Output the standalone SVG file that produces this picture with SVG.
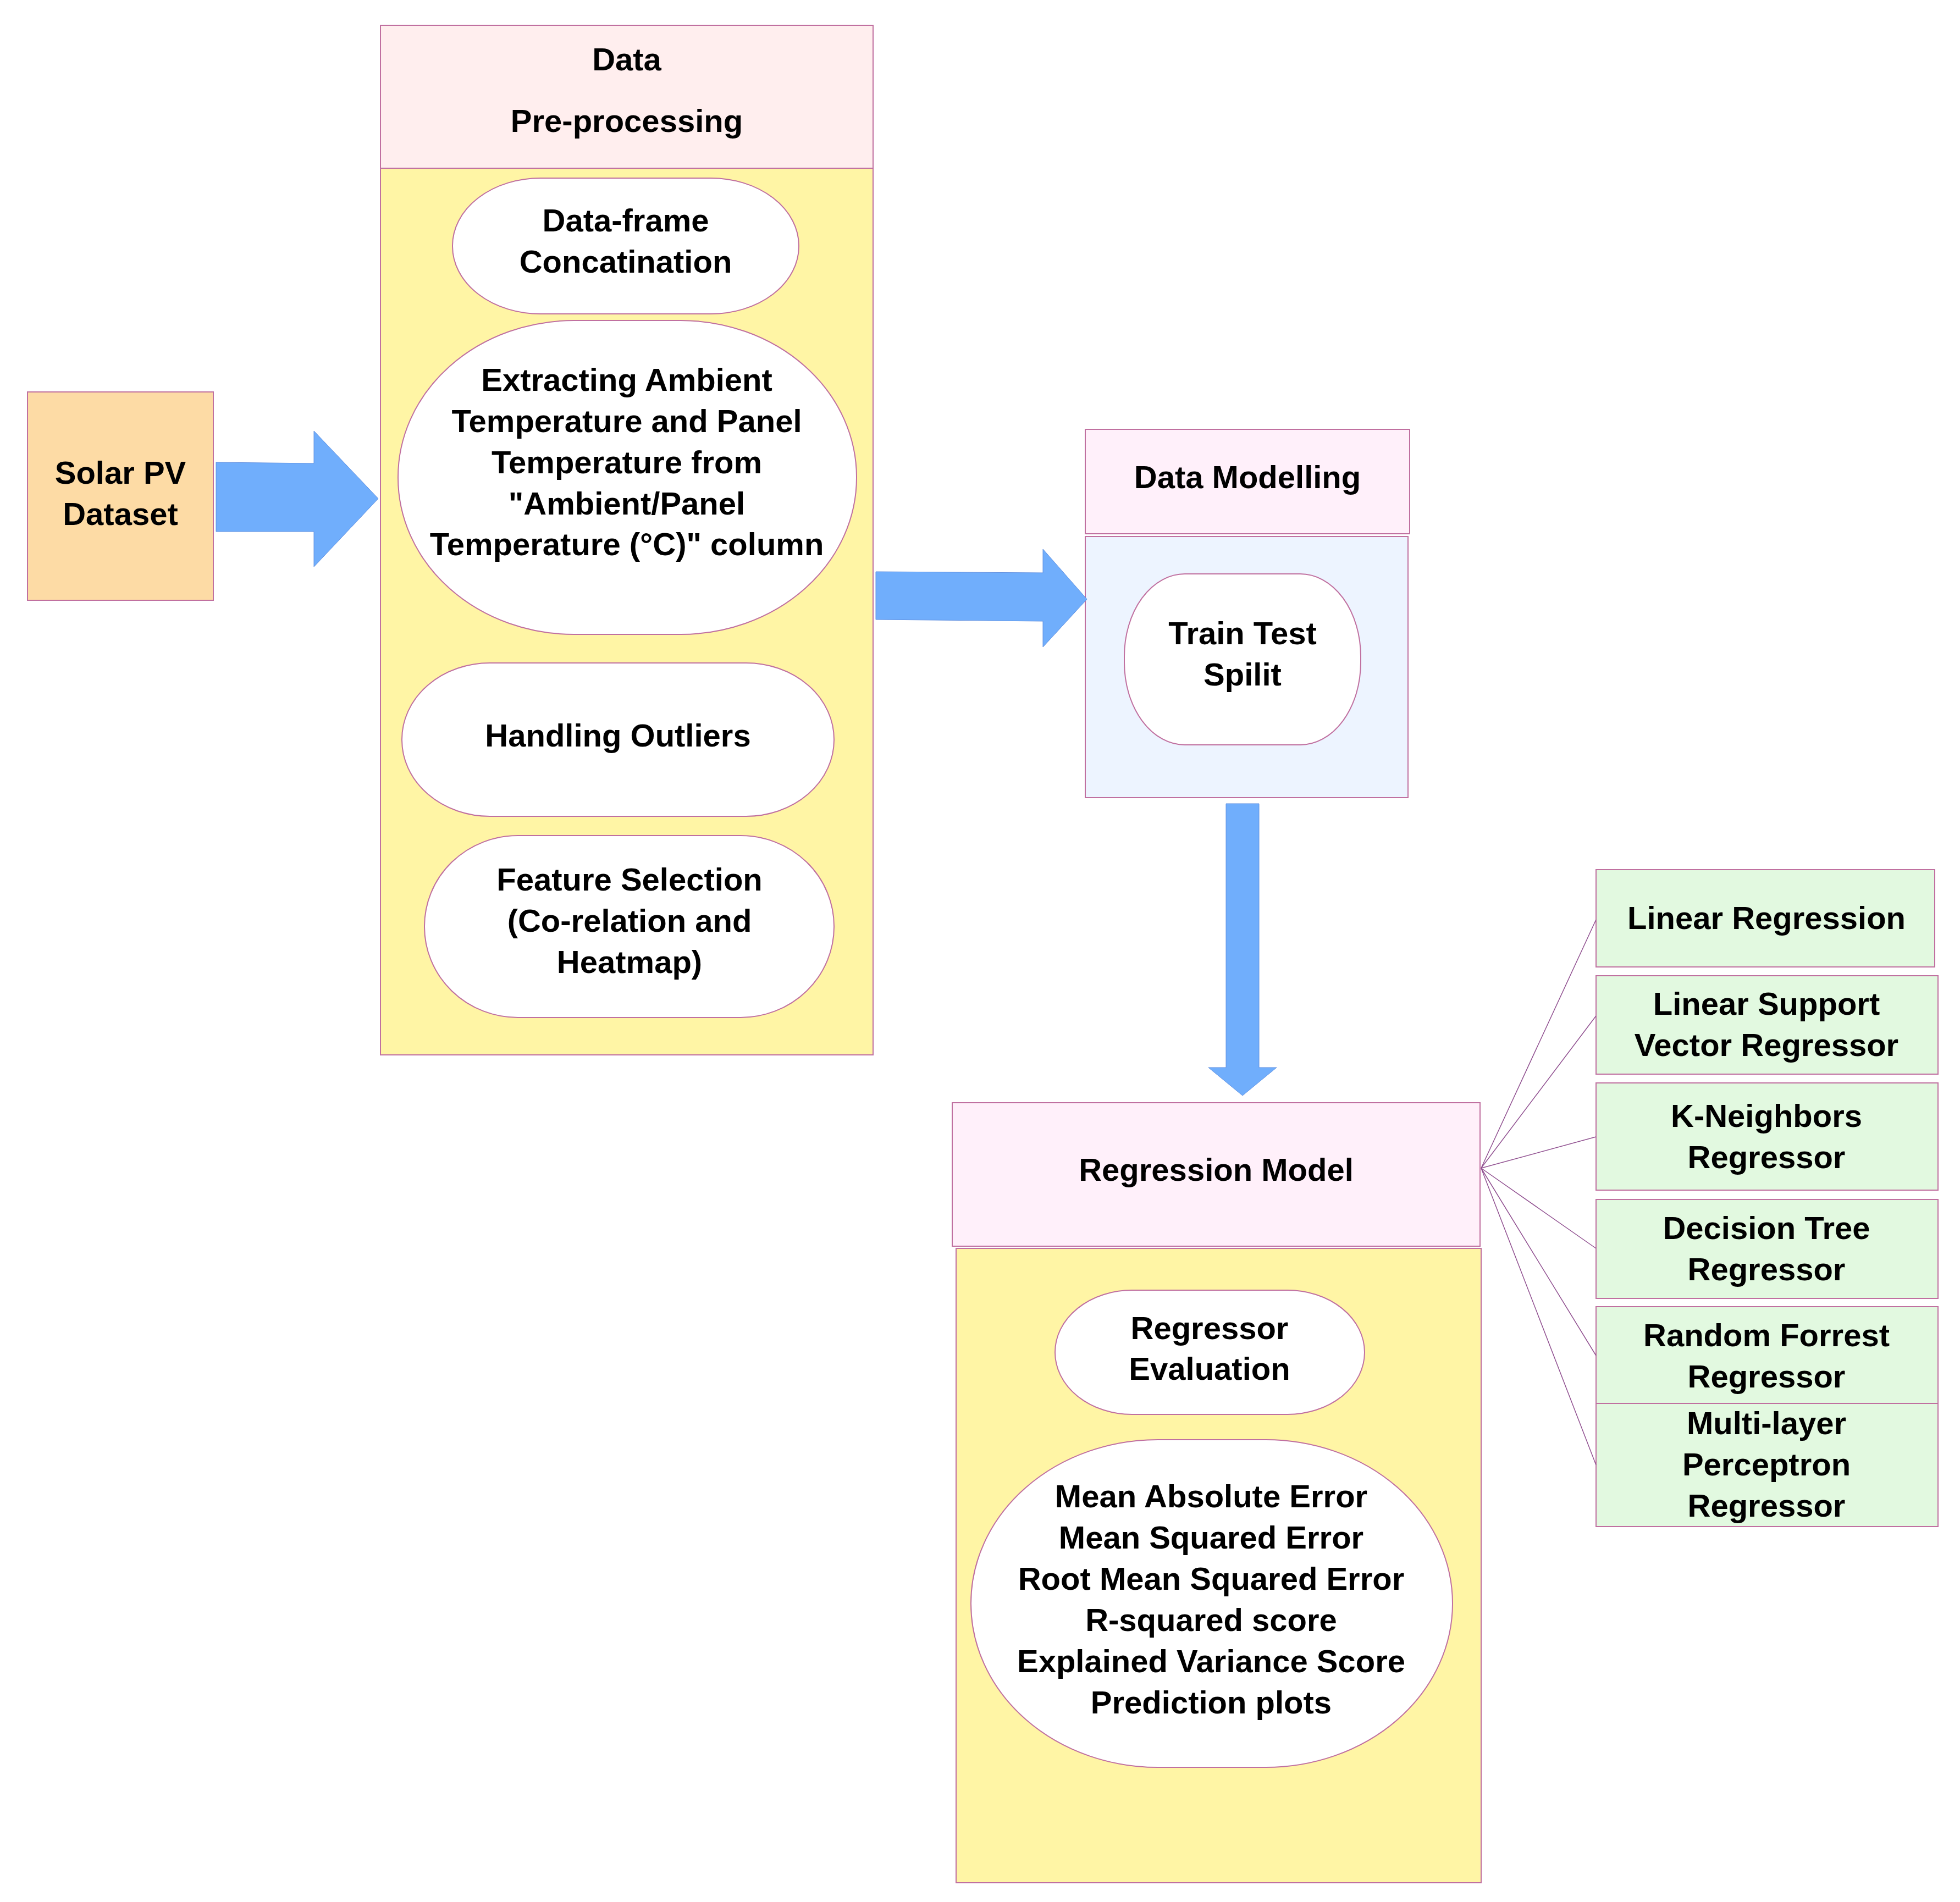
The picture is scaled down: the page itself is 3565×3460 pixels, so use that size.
<svg xmlns="http://www.w3.org/2000/svg" width="3565" height="3460" viewBox="0 0 3565 3460">
<style>
text{font-family:"Liberation Sans",Arial,sans-serif;font-weight:bold;fill:#000;text-anchor:middle;font-size:58px}
.b{stroke:#c070a0;stroke-width:2}
.pill{fill:#fff;stroke:#c070a0;stroke-width:2}
.arr{fill:#70aefc;stroke:#6090e0;stroke-width:1}
.g{fill:#e2f9e0;stroke:#c070a0;stroke-width:2}
.c{stroke:#905090;stroke-width:1.5;fill:none}
</style>
<rect width="3565" height="3460" fill="#fff"/>
<g id="solar"><rect class="b" x="50" y="713" width="338" height="379" fill="#fddba5"/>
<text x="219" y="880">Solar PV</text><text x="219" y="955">Dataset</text></g>
<g id="preprocessing">
<rect class="b" x="692" y="46" width="896" height="260" fill="#ffeeee"/>
<rect class="b" x="692" y="306" width="896" height="1613" fill="#fff5a5"/>
<text x="1140" y="128" font-size="90">Data</text><text x="1140" y="240" font-size="90">Pre-processing</text></g>
<g id="concat"><rect class="pill" x="823" y="324" width="630" height="247" rx="160" ry="123"/>
<text x="1138" y="421">Data-frame</text><text x="1138" y="496">Concatination</text></g>
<g id="extract"><rect class="pill" x="724" y="583" width="834" height="571" rx="320" ry="285"/>
<text x="1140" y="711">Extracting Ambient</text><text x="1140" y="786">Temperature and Panel</text><text x="1140" y="861">Temperature from</text><text x="1140" y="936">"Ambient/Panel</text><text x="1140" y="1010">Temperature (°C)" column</text></g>
<g id="outliers"><rect class="pill" x="731" y="1206" width="786" height="279" rx="160" ry="139"/>
<text x="1124" y="1358">Handling Outliers</text></g>
<g id="feature"><rect class="pill" x="772" y="1520" width="745" height="331" rx="170" ry="165"/>
<text x="1145" y="1620">Feature Selection</text><text x="1145" y="1695">(Co-relation and</text><text x="1145" y="1770">Heatmap)</text></g>
<g id="modelling">
<rect class="b" x="1974" y="781" width="590" height="190" fill="#fff0fa"/>
<rect class="b" x="1974" y="976" width="587" height="475" fill="#edf4ff"/>
<text x="2269" y="888">Data Modelling</text></g>
<g id="split"><rect class="pill" x="2045" y="1044" width="430" height="311" rx="110" ry="150"/>
<text x="2260" y="1172">Train Test</text><text x="2260" y="1247">Spilit</text></g>
<g id="regression">
<rect class="b" x="1732" y="2006" width="960" height="261" fill="#fff0fa"/>
<rect class="b" x="1739" y="2271" width="955" height="1154" fill="#fff5a5"/>
<text x="2212" y="2148">Regression Model</text></g>
<g id="evaluation"><rect class="pill" x="1919" y="2347" width="563" height="226" rx="140" ry="113"/>
<text x="2200" y="2436">Regressor</text><text x="2200" y="2510">Evaluation</text></g>
<g id="metrics"><rect class="pill" x="1766" y="2619" width="876" height="596" rx="340" ry="298"/>
<text x="2203" y="2742">Mean Absolute Error</text><text x="2203" y="2817">Mean Squared Error</text><text x="2203" y="2892">Root Mean Squared Error</text><text x="2203" y="2967">R-squared score</text><text x="2203" y="3042">Explained Variance Score</text><text x="2203" y="3117">Prediction plots</text></g>
<g id="lr"><rect class="g" x="2903" y="1582" width="616" height="177"/><text x="3213" y="1690">Linear Regression</text></g>
<g id="lsvr"><rect class="g" x="2903" y="1775" width="622" height="179"/><text x="3213" y="1846">Linear Support</text><text x="3213" y="1921">Vector Regressor</text></g>
<g id="knn"><rect class="g" x="2903" y="1970" width="622" height="195"/><text x="3213" y="2050">K-Neighbors</text><text x="3213" y="2125">Regressor</text></g>
<g id="dt"><rect class="g" x="2903" y="2182" width="622" height="180"/><text x="3213" y="2254">Decision Tree</text><text x="3213" y="2329">Regressor</text></g>
<g id="rf"><rect class="g" x="2903" y="2377" width="622" height="176"/><text x="3213" y="2449">Random Forrest</text><text x="3213" y="2524">Regressor</text></g>
<g id="mlp"><rect class="g" x="2903" y="2553" width="622" height="224"/><text x="3213" y="2609">Multi-layer</text><text x="3213" y="2684">Perceptron</text><text x="3213" y="2759">Regressor</text></g>
<g id="connectors">
<path class="arr" d="M393,841 L571,843 L571,784 L688,907 L571,1031 L571,967 L393,967 Z"/>
<path class="arr" d="M1593,1040 L1897,1042 L1897,999 L1977,1090 L1897,1177 L1897,1130 L1593,1127 Z"/>
<path class="arr" d="M2230,1462 L2290,1462 L2290,1942 L2322,1942 L2260,1993 L2198,1942 L2230,1942 Z"/>
<path class="c" d="M2694,2125 L2903,1673 M2694,2125 L2903,1848 M2694,2125 L2903,2068 M2694,2125 L2903,2271 M2694,2125 L2903,2466 M2694,2125 L2903,2665"/>
</g>
</svg>
